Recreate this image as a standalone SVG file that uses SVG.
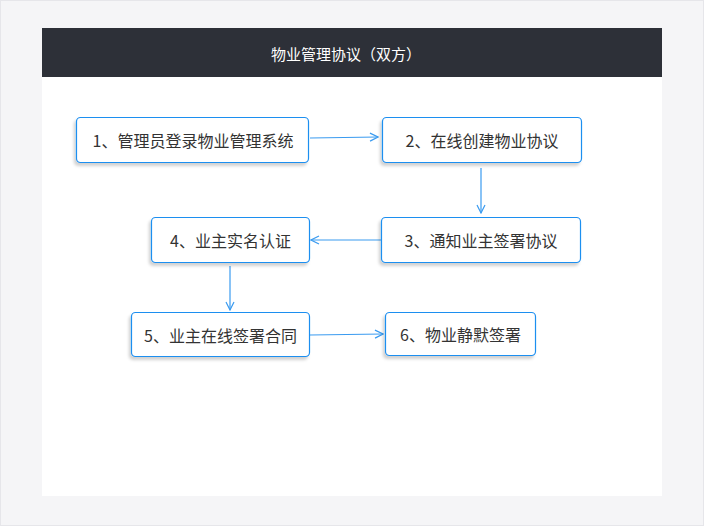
<svg xmlns="http://www.w3.org/2000/svg" width="704" height="526" viewBox="0 0 704 526">
<style>
.node rect{fill:#fff;stroke:#1f8ff0;stroke-width:1.2;filter:url(#sh)}
.node text{font-family:"Noto Sans CJK SC","Noto Sans",sans-serif;font-size:16px;fill:#333;text-anchor:middle;dominant-baseline:central}
.conn line{stroke:#3a9bf0;stroke-width:1.2;fill:none;marker-end:url(#arr)}
</style>
<defs>
<filter id="sh" x="-20%" y="-30%" width="140%" height="170%">
<feDropShadow dx="-2" dy="3" stdDeviation="1.5" flood-color="#000" flood-opacity="0.18"/>
</filter>
<marker id="arr" viewBox="0 0 10 10" refX="9" refY="5" markerWidth="10" markerHeight="10" markerUnits="userSpaceOnUse" orient="auto">
<path d="M1,1 L9,5 L1,9" fill="none" stroke="#3a9bf0" stroke-width="1.2"/>
</marker>
</defs>
<rect x="0.5" y="0.5" width="703" height="525" fill="#f5f5f7" stroke="#e6e6ea"/>
<rect x="42" y="28" width="620" height="468" fill="#fff"/>
<rect x="42" y="28" width="620" height="49" fill="#2d3038"/>
<text x="346" y="53" font-family="'Noto Sans CJK SC','Noto Sans',sans-serif" font-size="15" fill="#fff" text-anchor="middle" dominant-baseline="central">物业管理协议（双方）</text>
<g class="conn">
<line x1="310" y1="138" x2="378" y2="137"/>
<line x1="481" y1="168" x2="481" y2="213"/>
<line x1="381" y1="240" x2="311" y2="240"/>
<line x1="230" y1="266" x2="230" y2="310"/>
<line x1="310" y1="335" x2="383" y2="334"/>
</g>
<g id="n1" class="node"><rect x="76.5" y="117.5" width="232" height="45" rx="4"/><text x="193" y="140">1、管理员登录物业管理系统</text></g>
<g id="n2" class="node"><rect x="382.5" y="117.5" width="199" height="45" rx="4"/><text x="482" y="140">2、在线创建物业协议</text></g>
<g id="n3" class="node"><rect x="381.5" y="217.5" width="199" height="45" rx="4"/><text x="481" y="240">3、通知业主签署协议</text></g>
<g id="n4" class="node"><rect x="151.5" y="217.5" width="158" height="45" rx="4"/><text x="230.5" y="240">4、业主实名认证</text></g>
<g id="n5" class="node"><rect x="131.5" y="312.5" width="178" height="44" rx="4"/><text x="220.5" y="334.5">5、业主在线签署合同</text></g>
<g id="n6" class="node"><rect x="385.5" y="312.5" width="150" height="43" rx="4"/><text x="460.5" y="334">6、物业静默签署</text></g>
</svg>
